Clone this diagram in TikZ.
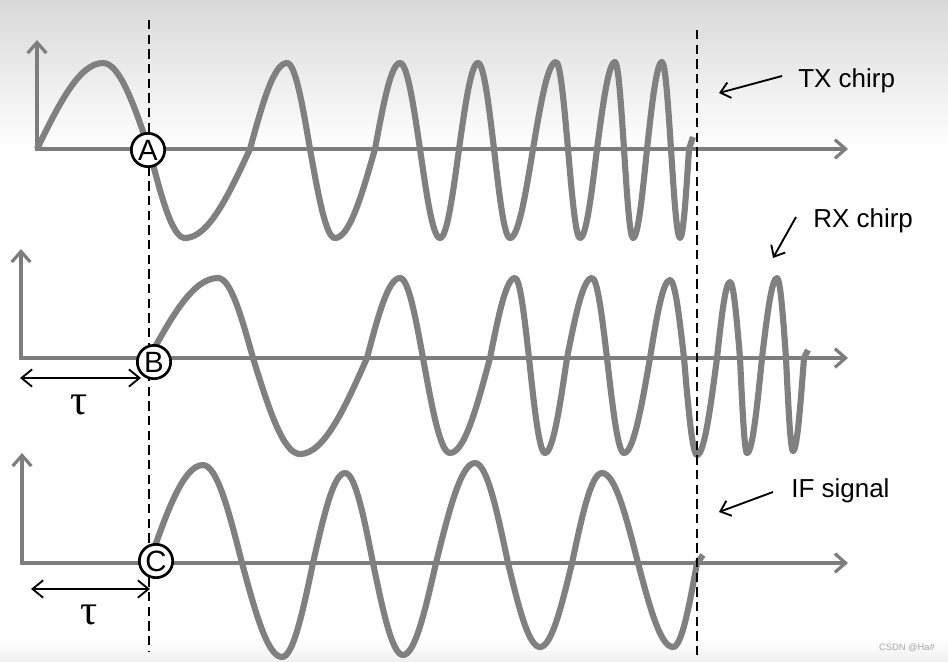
\documentclass[tikz,border=0pt]{standalone}
\usepackage{fontspec}
\setmainfont{Liberation Sans}
\newfontfamily\taufont{Liberation Serif}
\usetikzlibrary{arrows.meta}
\definecolor{wavegray}{RGB}{128,128,128}
\definecolor{axisgray}{RGB}{125,125,125}
\begin{document}
\begin{tikzpicture}[x=0.75pt,y=-0.75pt,
  wave/.style={draw=wavegray,line width=4.6pt,line join=round},
  axisline/.style={draw=axisgray,line width=2.4pt,line join=miter,
    {Straight Barb[length=8pt,width=14pt]}-{Straight Barb[length=8pt,width=14pt]}},
  dashline/.style={draw=black,line width=1.5pt,dash pattern=on 7pt off 4pt},
  circmark/.style={circle,draw=black,line width=2pt,fill=white,minimum size=25pt,
    inner sep=0pt,font=\fontsize{22}{22}\selectfont},
  lbl/.style={font=\fontsize{19.5}{20}\selectfont,inner sep=0pt,anchor=base west},
  taulbl/.style={font=\taufont\fontsize{32}{32}\selectfont,inner sep=0pt},
  pointer/.style={draw=black,line width=1.4pt,-{Straight Barb[length=7pt,width=12pt]}},
  spanarrow/.style={draw=black,line width=1.4pt,
    {Straight Barb[length=8pt,width=13pt]}-{Straight Barb[length=8pt,width=13pt]}},
]
% background
\useasboundingbox (0,0) rectangle (948,661);
\fill[white] (0,0) rectangle (948,661);
\shade[top color=gray!30,bottom color=white] (0,0) rectangle (948,150);
\shade[top color=white,bottom color=gray!12] (0,640) rectangle (948,661);

% axes
\draw[axisline] (37,40) -- (37,149) -- (848,149);
\draw[axisline] (21,249) -- (21,358) -- (848,358);
\draw[axisline] (22,453) -- (22,563) -- (848,563);

% TX chirp
\draw[wave] (37,149) sin (103,63) cos (149,149) sin (185,238) cos (250,149)
  sin (287,63) cos (310,149) sin (335,238) cos (375,149)
  sin (400,63) cos (420,149) sin (440,238) cos (459,149)
  sin (478,63) cos (494,149) sin (510,238) cos (533,149)
  sin (556,62) cos (568,149) sin (580,238) cos (597,149)
  sin (615,62) cos (624,149) sin (633,238) cos (647,149)
  sin (662,62) cos (671,149) sin (680,238) cos (689,149) -- (693,137);

% RX chirp
\draw[wave] (149,358) sin (218,278) cos (253,358) sin (300,454) cos (367,358)
  sin (400,278) cos (423,358) sin (450,453) cos (490,358)
  sin (515,278) cos (529,358) sin (545,453) cos (567,358)
  sin (592,278) cos (607,358) sin (624,453) cos (650,358)
  sin (670,280) cos (684,358) sin (697,455) cos (717,358)
  sin (730,282) cos (740,358) sin (747,453) cos (762,358)
  sin (777,278) cos (786,358) sin (793,451) cos (804,358) -- (808,350);

% IF signal
\draw[wave] (149,563) sin (203,465) cos (242,563) sin (282,657) cos (313,563)
  sin (345,473) cos (373,563) sin (403,655) cos (436,563)
  sin (475,463) cos (508,563) sin (540,647) cos (572,563)
  sin (602,473) cos (638,563) sin (673,647) cos (697,563) -- (703,555);

% dashed time markers
\coordinate (d1t) at (149,20);
\coordinate (d1b) at (149,652);
\coordinate (d2t) at (697,30);
\coordinate (d2b) at (697,660);
\draw[dashline] (d1t) -- (d1b);
\draw[dashline] (d2t) -- (d2b);

% circled markers
\node[circmark] (A) at (148,150) {A};
\node[circmark] (B) at (154,362) {B};
\node[circmark] (C) at (156,561) {C};

% labels and pointers
\node[lbl] (tx) at (798,87) {TX chirp};
\node[lbl] (rx) at (813,227) {RX chirp};
\node[lbl] (ifl) at (791,497) {IF signal};
\coordinate (txs) at (782,76);
\coordinate (txe) at (719,93);
\coordinate (rxs) at (796,217);
\coordinate (rxe) at (773,258);
\coordinate (ifs) at (773,492);
\coordinate (ife) at (719,512);
\draw[pointer] (txs) -- (txe);
\draw[pointer] (rxs) -- (rxe);
\draw[pointer] (ifs) -- (ife);

% tau spans
\coordinate (t1a) at (20,378);
\coordinate (t1b) at (141,378);
\coordinate (t2a) at (31,589);
\coordinate (t2b) at (150,589);
\draw[spanarrow] (t1a) -- (t1b);
\draw[spanarrow] (t2a) -- (t2b);
\node[taulbl] (tau1) at (79,405) {τ};
\node[taulbl] (tau2) at (89,615) {τ};

% watermark
\node[font=\fontsize{7}{8}\selectfont,text=gray!70,inner sep=0pt] (wm) at (907,648) {CSDN @Ha\#};
\end{tikzpicture}
\end{document}
